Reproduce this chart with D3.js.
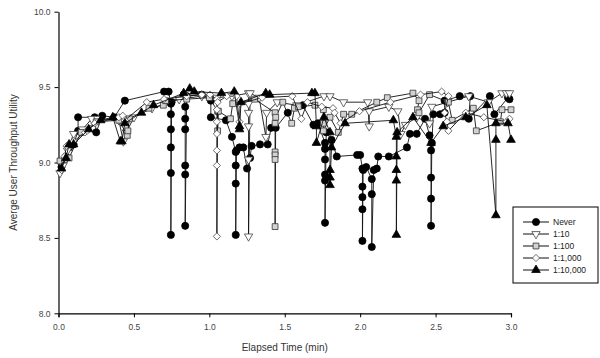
<!DOCTYPE html>
<html>
<head>
<meta charset="utf-8">
<script src="https://cdn.jsdelivr.net/npm/d3@7"></script>
<style>
  body { margin: 0; background: #fff; }
  svg { display: block; font-family: "Liberation Sans", Arial, sans-serif; }
</style>
</head>
<body>
<div id="chart"></div>
<script>
// series values: [elapsed min, utility]
const neverPts = [[0.02,8.97],[0.05,9.04],[0.07,9.10],[0.10,9.12],[0.13,9.21],[0.13,9.30],[0.24,9.30],[0.25,9.20],[0.29,9.31],[0.37,9.30],[0.44,9.41],[0.70,9.47],[0.73,9.47],
  [0.745,9.39],[0.745,9.32],[0.745,9.22],[0.745,9.10],[0.745,8.93],[0.745,8.52],[0.75,9.40],[0.83,9.45],
  [0.84,9.37],[0.84,9.29],[0.84,9.22],[0.84,8.98],[0.84,8.92],[0.84,8.58],[0.85,9.44],[0.95,9.45],[1.01,9.41],[1.01,9.30],[1.11,9.28],[1.15,9.17],
  [1.175,9.07],[1.175,8.98],[1.175,8.86],[1.175,8.52],[1.18,9.08],[1.20,9.10],[1.225,9.10],[1.25,8.96],[1.27,9.03],[1.28,9.11],[1.336,9.12],[1.387,9.12],
  [1.41,9.23],[1.44,9.23],[1.52,9.33],[1.62,9.38],[1.69,9.25],[1.72,9.26],
  [1.767,9.13],[1.767,9.09],[1.767,9.02],[1.767,8.92],[1.767,8.88],[1.767,8.60],[1.775,9.20],[1.81,9.15],[1.845,9.04],[1.98,9.05],[2.0,9.05],
  [2.015,8.96],[2.015,8.84],[2.015,8.77],[2.015,8.69],[2.015,8.48],[2.02,8.95],[2.04,8.97],[2.077,8.89],[2.077,8.79],[2.077,8.44],[2.09,8.95],
  [2.11,8.96],[2.12,9.04],[2.19,9.04],[2.31,9.10],[2.33,9.19],[2.375,9.19],[2.43,9.29],[2.46,9.18],
  [2.47,9.08],[2.47,8.90],[2.47,8.76],[2.47,8.58],[2.475,9.13],[2.485,9.32],[2.53,9.32],[2.56,9.33],[2.56,9.41],[2.66,9.44],[2.73,9.44],[2.72,9.29],
  [2.86,9.44],[2.89,9.32],[2.98,9.43],[2.99,9.42]];

const tenPts = [[0.01,8.93],[0.03,8.98],[0.06,9.08],[0.10,9.19],[0.16,9.22],[0.22,9.29],[0.26,9.29],[0.40,9.28],[0.43,9.14],[0.45,9.20],[0.50,9.30],
  [0.62,9.36],[0.80,9.42],[0.95,9.44],[1.05,9.43],[1.15,9.44],[1.26,9.46],[1.26,9.39],[1.26,9.33],[1.26,9.24],[1.26,9.02],[1.26,8.51],[1.27,9.46],
  [1.33,9.43],[1.375,9.17],[1.38,9.33],[1.45,9.40],[1.58,9.38],[1.76,9.44],[1.80,9.44],[1.89,9.40],[2.05,9.40],[2.06,9.24],[2.06,9.34],[2.19,9.37],
  [2.25,9.34],[2.27,9.19],[2.30,9.25],[2.375,9.30],[2.46,9.26],[2.475,9.37],[2.58,9.40],[2.72,9.44],[2.85,9.40],[2.94,9.46],[2.97,9.46],[2.99,9.46]];

const hundredPts = [[0.01,9.01],[0.04,9.02],[0.07,9.03],[0.15,9.20],[0.25,9.27],[0.40,9.28],[0.456,9.18],[0.46,9.21],[0.47,9.29],[0.60,9.36],
  [0.695,9.38],[0.71,9.41],[0.85,9.42],[1.0,9.43],[1.055,9.34],[1.055,9.21],[1.06,9.34],[1.14,9.29],[1.155,9.39],[1.30,9.42],
  [1.436,9.33],[1.436,9.26],[1.436,9.07],[1.436,9.05],[1.436,9.02],[1.436,8.575],[1.44,9.30],[1.487,9.40],[1.546,9.26],[1.564,9.36],[1.59,9.37],
  [1.70,9.38],[1.756,9.35],[1.756,9.26],[1.756,9.21],[1.80,9.30],[1.855,9.20],[1.89,9.32],[1.944,9.32],[2.11,9.40],[2.18,9.43],[2.35,9.46],
  [2.39,9.41],[2.38,9.35],[2.39,9.33],[2.46,9.45],[2.585,9.40],[2.61,9.28],[2.75,9.36],[2.77,9.21],[2.93,9.27],[2.94,9.35],[3.0,9.35]];

const thousandPts = [[0.02,8.95],[0.04,9.04],[0.054,9.11],[0.10,9.14],[0.176,9.20],[0.19,9.21],[0.24,9.26],[0.40,9.30],[0.426,9.31],[0.44,9.28],
  [0.585,9.40],[0.70,9.42],[0.85,9.44],[0.95,9.45],[1.005,9.45],[1.05,9.42],[1.05,9.35],[1.05,9.27],[1.05,9.19],[1.05,9.08],[1.05,8.98],[1.05,8.51],
  [1.055,9.40],[1.115,9.44],[1.18,9.44],[1.20,9.27],[1.204,9.39],[1.35,9.43],[1.55,9.44],[1.61,9.29],[1.65,9.40],[1.745,9.37],[1.82,9.36],
  [1.83,9.33],[1.87,9.26],[1.995,9.34],[2.20,9.40],[2.40,9.45],[2.54,9.47],[2.585,9.44],[2.56,9.33],[2.575,9.27],[2.585,9.21],[2.70,9.33],
  [2.82,9.30],[2.97,9.27],[2.99,9.29]];

const tenThousandPts = [[0.02,8.96],[0.05,9.03],[0.07,9.12],[0.10,9.12],[0.20,9.22],[0.28,9.28],[0.36,9.30],[0.41,9.14],[0.42,9.14],[0.44,9.26],
  [0.55,9.33],[0.63,9.38],[0.83,9.46],[0.87,9.49],[0.90,9.47],[1.08,9.46],[1.165,9.47],[1.20,9.24],[1.20,9.22],[1.21,9.40],[1.374,9.46],[1.40,9.45],
  [1.68,9.46],[1.70,9.46],[1.71,9.24],[1.71,9.13],[1.76,9.30],[1.80,9.20],[1.80,8.95],[1.80,8.90],[1.80,8.85],[1.81,9.10],[1.90,9.26],[2.22,9.28],
  [2.24,9.17],[2.24,9.04],[2.24,8.95],[2.24,8.88],[2.24,8.52],[2.245,9.20],[2.35,9.30],[2.47,9.13],[2.55,9.24],[2.70,9.30],[2.84,9.38],
  [2.90,8.65],[2.90,9.15],[2.90,9.26],[2.98,9.26],[3.0,9.15]];

const seriesNames = ["Never", "1:10", "1:100", "1:1,000", "1:10,000"];
const xTicks = [0, 0.5, 1.0, 1.5, 2.0, 2.5, 3.0];
const yTicks = [8.0, 8.5, 9.0, 9.5, 10.0];

const widthValue = 600, heightValue = 358;
const margin = {top: 11.7, bottom: 44.7, left: 58.5, right: 89};

// marker look per series
const markers = [
  {type: d3.symbolCircle, size: 40, rot: 0, fill: "#000", stroke: "#000"},
  {type: d3.symbolTriangle, size: 30, rot: 180, fill: "#fff", stroke: "#444"},
  {type: d3.symbolSquare, size: 34, rot: 0, fill: "#d2d2d2", stroke: "#333"},
  {type: d3.symbolSquare, size: 26, rot: 45, fill: "#fff", stroke: "#555"},
  {type: d3.symbolTriangle, size: 32, rot: 0, fill: "#000", stroke: "#000"}
];
const allSeries = [neverPts, tenPts, hundredPts, thousandPts, tenThousandPts];

const svg = d3.select("#chart").append("svg")
  .attr("width", widthValue)
  .attr("height", heightValue);

const x = d3.scaleLinear().domain([0, 3]).range([margin.left, widthValue - margin.right]);
const y = d3.scaleLinear().domain([8, 10]).range([heightValue - margin.bottom, margin.top]);

// axes
const gx = svg.append("g")
  .attr("transform", `translate(0,${y(8)})`)
  .call(d3.axisBottom(x).tickValues(xTicks).tickFormat(d3.format(".1f")).tickSize(4).tickSizeOuter(4));
const gy = svg.append("g")
  .attr("transform", `translate(${x(0)},0)`)
  .call(d3.axisLeft(y).tickValues(yTicks).tickFormat(d3.format(".1f")).tickSize(4).tickSizeOuter(0));

[gx, gy].forEach(g => {
  g.select(".domain").attr("stroke", "#000").attr("stroke-width", 1.2);
  g.selectAll(".tick line").attr("stroke", "#000");
  g.selectAll(".tick text").attr("fill", "#444").style("font-size", "8.5px");
});
gx.selectAll(".tick text").attr("dy", "1.1em");
gy.selectAll(".tick text").attr("x", -8);

svg.append("text")
  .attr("x", x(1.5)).attr("y", 351)
  .attr("text-anchor", "middle")
  .attr("fill", "#333")
  .style("font-size", "10px")
  .text("Elapsed Time (min)");

svg.append("text")
  .attr("transform", `translate(17,${y(9)}) rotate(-90)`)
  .attr("text-anchor", "middle")
  .attr("fill", "#333")
  .style("font-size", "10px")
  .text("Averge User Throughput Utility");

const line = d3.line().x(d => x(d[0])).y(d => y(d[1]));

// series: lines then markers, in legend order
allSeries.forEach((pts, i) => {
  const m = markers[i];
  const g = svg.append("g");
  g.append("path")
    .datum(pts)
    .attr("d", line)
    .attr("fill", "none")
    .attr("stroke", "#111")
    .attr("stroke-width", 0.9);
  g.selectAll("path.pt").data(pts).enter().append("path")
    .attr("class", "pt")
    .attr("d", d3.symbol().type(m.type).size(m.size))
    .attr("transform", d => `translate(${x(d[0])},${y(d[1])}) rotate(${m.rot})`)
    .attr("fill", m.fill)
    .attr("stroke", m.stroke)
    .attr("stroke-width", 0.8);
});

// legend
const legend = svg.append("g").attr("transform", "translate(513,207)");
legend.append("rect")
  .attr("width", 85).attr("height", 76)
  .attr("fill", "#fff").attr("stroke", "#000").attr("stroke-width", 1);
const rowY = d3.scalePoint().domain(seriesNames).range([15, 63]);
seriesNames.forEach((name, i) => {
  const m = markers[i];
  const row = legend.append("g").attr("transform", `translate(0,${rowY(name)})`);
  row.append("line").attr("x1", 10).attr("x2", 36).attr("stroke", "#111").attr("stroke-width", 1);
  row.append("path")
    .attr("d", d3.symbol().type(m.type).size(m.size))
    .attr("transform", `translate(23,0) rotate(${m.rot})`)
    .attr("fill", m.fill).attr("stroke", m.stroke).attr("stroke-width", 0.8);
  row.append("text")
    .attr("x", 40).attr("dy", "0.35em")
    .attr("fill", "#222")
    .style("font-size", "8.5px")
    .text(name);
});
</script>
</body>
</html>
